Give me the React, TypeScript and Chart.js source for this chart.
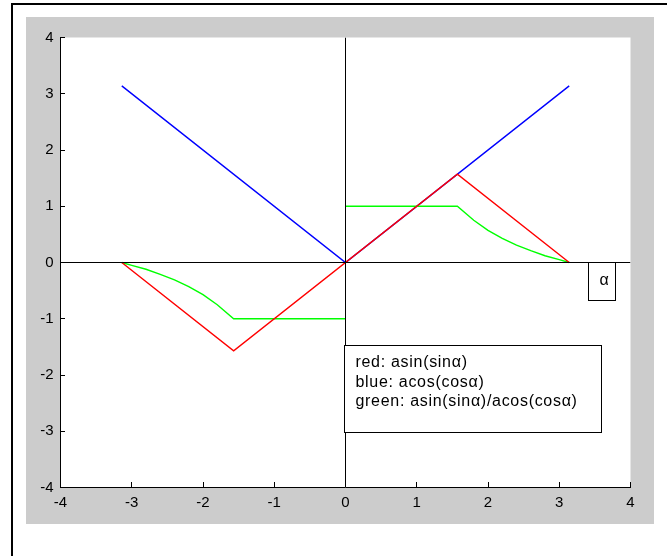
import React, { useEffect, useRef } from "react";
import { Chart, registerables } from "chart.js";

Chart.register(...registerables);

// ---- data ----
const redAlpha = [-3.14, -1.57, 1.57, 3.14];
const redValues = [0, -1.57, 1.57, 0];

const blueAlpha = [-3.14, 0, 3.14];
const blueValues = [3.14, 0, 3.14];

const greenLeftAlpha = [-3.14, -3.0, -2.8, -2.6, -2.4, -2.2, -2.0, -1.8, -1.57, 0];
const greenLeftValues = [0, -0.05, -0.12, -0.21, -0.31, -0.43, -0.57, -0.75, -1, -1];
const greenRightAlpha = [0, 1.57, 1.8, 2.0, 2.2, 2.4, 2.6, 2.8, 3.0, 3.14];
const greenRightValues = [1, 1, 0.75, 0.57, 0.43, 0.31, 0.21, 0.12, 0.05, 0];

const xAxisLineX = [-4, 4];
const xAxisLineY = [0, 0];
const yAxisLineX = [0, 0];
const yAxisLineY = [-4, 4];

const xTicks = [-4, -3, -2, -1, 0, 1, 2, 3, 4];
const yTicks = [-4, -3, -2, -1, 0, 1, 2, 3, 4];

const legendLines = ["red: asin(sin\u03b1)", "blue: acos(cos\u03b1)", "green: asin(sin\u03b1)/acos(cos\u03b1)"];
const alphaLabel = "\u03b1";

// annotation boxes in data coordinates
const legendBox = { x0: -0.014, x1: 3.59, y0: -1.476, y1: -3.02 };
const legendTextX = 0.14;
const legendTextY = [-1.78, -2.13, -2.47];
const alphaBox = { x0: 3.41, x1: 3.79, y0: 0, y1: -0.675 };
const alphaTextPos = { x: 3.63, y: -0.33 };

const FAMILY = '"Liberation Sans", Arial, sans-serif';

const pts = (xs: number[], ys: number[]) => xs.map((x, i) => ({ x, y: ys[i] }));

const decor = {
  id: "decor",
  beforeDraw(chart: any) {
    const { ctx, chartArea: ca, width, height } = chart;
    ctx.save();
    ctx.fillStyle = "#ffffff";
    ctx.fillRect(0, 0, width, height);
    ctx.fillStyle = "#cccccc";
    ctx.fillRect(26, 17, 628, 507);
    ctx.strokeStyle = "#000000";
    ctx.lineWidth = 2;
    ctx.strokeRect(12, 4, width + 20, height + 20);
    ctx.fillStyle = "#ffffff";
    ctx.fillRect(ca.left, ca.top, ca.right - ca.left, ca.bottom - ca.top);
    ctx.restore();
  },
  afterDraw(chart: any) {
    const { ctx, chartArea: ca } = chart;
    const xs = chart.scales.x;
    const ys = chart.scales.y;
    const px = (v: number) => Math.floor(xs.getPixelForValue(v)) + 0.5;
    const py = (v: number) => Math.floor(ys.getPixelForValue(v)) + 0.5;
    ctx.save();
    ctx.strokeStyle = "#000000";
    ctx.lineWidth = 1;
    // inward ticks
    ctx.beginPath();
    yTicks.forEach((v) => {
      const p = py(v);
      ctx.moveTo(Math.floor(ca.left), p);
      ctx.lineTo(Math.floor(ca.left) + 5, p);
    });
    xTicks.forEach((v) => {
      const p = px(v);
      ctx.moveTo(p, Math.floor(ca.bottom));
      ctx.lineTo(p, Math.floor(ca.bottom) - 5);
    });
    ctx.stroke();

    // alpha box
    const ax0 = px(alphaBox.x0), ax1 = px(alphaBox.x1);
    const ay0 = py(alphaBox.y0), ay1 = py(alphaBox.y1);
    ctx.fillStyle = "#ffffff";
    ctx.fillRect(ax0, ay0, ax1 - ax0, ay1 - ay0);
    ctx.strokeRect(ax0, ay0, ax1 - ax0, ay1 - ay0);
    ctx.fillStyle = "#000000";
    ctx.font = `16px ${FAMILY}`;
    ctx.textAlign = "center";
    ctx.textBaseline = "middle";
    ctx.fillText(alphaLabel, xs.getPixelForValue(alphaTextPos.x), ys.getPixelForValue(alphaTextPos.y));

    // legend text box
    const lx0 = px(legendBox.x0), lx1 = px(legendBox.x1);
    const ly0 = py(legendBox.y0), ly1 = py(legendBox.y1);
    ctx.fillStyle = "#ffffff";
    ctx.fillRect(lx0, ly0, lx1 - lx0, ly1 - ly0);
    ctx.strokeRect(lx0, ly0, lx1 - lx0, ly1 - ly0);
    ctx.fillStyle = "#000000";
    ctx.textAlign = "left";
    ctx.font = `16px ${FAMILY}`;
    try { (ctx as any).letterSpacing = "0.7px"; } catch (e) {}
    legendLines.forEach((t, i) => {
      ctx.fillText(t, xs.getPixelForValue(legendTextX), ys.getPixelForValue(legendTextY[i]));
    });
    ctx.restore();
  },
};

export default function App() {
  const ref = useRef<HTMLCanvasElement | null>(null);
  useEffect(() => {
    if (!ref.current) return;
    const line = (data: any, color: string, order: number, w: number) => ({
      data,
      borderColor: color,
      backgroundColor: color,
      borderWidth: w,
      showLine: true,
      pointRadius: 0,
      order,
    });
    const chart = new Chart(ref.current, {
      type: "scatter",
      data: {
        datasets: [
          line(pts(xAxisLineX, xAxisLineY), "#000000", 0, 1),
          line(pts(yAxisLineX, yAxisLineY), "#000000", 0, 1),
          line(pts(redAlpha, redValues), "#ff0000", 1, 1.4),
          line(pts(greenLeftAlpha, greenLeftValues), "#00ff00", 2, 1.4),
          line(pts(greenRightAlpha, greenRightValues), "#00ff00", 2, 1.4),
          line(pts(blueAlpha, blueValues), "#0000ff", 3, 1.4),
        ],
      },
      options: {
        responsive: false,
        animation: false,
        layout: { padding: { top: 37.5, right: 36.5, left: 0, bottom: 0 } },
        plugins: { legend: { display: false }, tooltip: { enabled: false } },
        scales: {
          x: {
            type: "linear",
            min: -4,
            max: 4,
            afterBuildTicks: (s: any) => {
              s.ticks = xTicks.map((v) => ({ value: v }));
            },
            afterFit: (s: any) => {
              s.height = 68.5;
            },
            grid: { drawOnChartArea: false, drawTicks: false },
            border: { display: true, color: "#000000", width: 1 },
            ticks: { padding: 6, color: "#000000", font: { family: FAMILY, size: 15 }, maxRotation: 0 },
          },
          y: {
            type: "linear",
            min: -4,
            max: 4,
            afterBuildTicks: (s: any) => {
              s.ticks = yTicks.map((v) => ({ value: v }));
            },
            afterFit: (s: any) => {
              s.width = 60.5;
            },
            grid: { drawOnChartArea: false, drawTicks: false },
            border: { display: true, color: "#000000", width: 1 },
            ticks: { padding: 7, color: "#000000", font: { family: FAMILY, size: 15 } },
          },
        },
      },
      plugins: [decor],
    } as any);
    return () => chart.destroy();
  }, []);
  return (
    <div style={{ position: "absolute", left: 0, top: 0, width: 667, height: 556 }}>
      <canvas ref={ref} width={667} height={556} />
    </div>
  );
}
